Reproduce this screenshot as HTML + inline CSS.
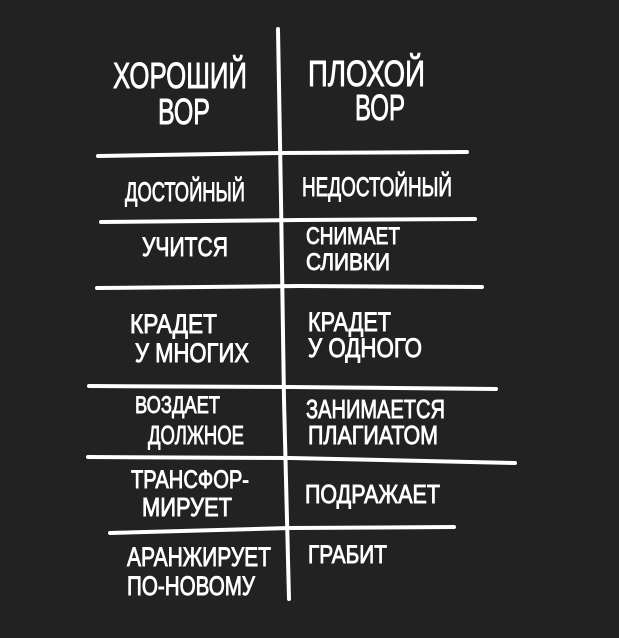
<!DOCTYPE html>
<html><head><meta charset="utf-8"><style>
html,body{margin:0;padding:0;background:#222222;}
svg{display:block;}
text{font-family:"Liberation Sans","DejaVu Sans",sans-serif;fill:#fff;stroke:#fff;stroke-width:0.9;}
</style></head><body>
<svg width="619" height="638" viewBox="0 0 619 638" xmlns="http://www.w3.org/2000/svg">
<rect width="619" height="638" fill="#222222"/>
<g stroke="#fff" stroke-width="4" stroke-linecap="round" fill="none">
<path d="M278 29 L281 200 L284 400 L289 599"/>
<path d="M98 156 L280 153 L467 152"/>
<path d="M101 222 L300 220 L475 219"/>
<path d="M97 288 L300 286 L482 287"/>
<path d="M89 386 L290 387 L496 389"/>
<path d="M88 457 L290 458 L515 463"/>
<path d="M110 533 L290 528 L454 527"/>
</g>
<g>
<text x="113" y="88" font-size="36" textLength="134" lengthAdjust="spacingAndGlyphs">ХОРОШИЙ</text>
<text x="158" y="124" font-size="36" textLength="52" lengthAdjust="spacingAndGlyphs">ВОР</text>
<text x="308" y="86" font-size="36" textLength="117" lengthAdjust="spacingAndGlyphs">ПЛОХОЙ</text>
<text x="355" y="120" font-size="36" textLength="50" lengthAdjust="spacingAndGlyphs">ВОР</text>

<text x="125" y="201" font-size="27" textLength="120" lengthAdjust="spacingAndGlyphs">ДОСТОЙНЫЙ</text>
<text x="302" y="196" font-size="27" textLength="150" lengthAdjust="spacingAndGlyphs">НЕДОСТОЙНЫЙ</text>

<text x="142" y="256" font-size="27" textLength="86" lengthAdjust="spacingAndGlyphs">УЧИТСЯ</text>
<text x="306" y="244" font-size="24" textLength="94" lengthAdjust="spacingAndGlyphs">СНИМАЕТ</text>
<text x="306" y="270" font-size="24" textLength="84" lengthAdjust="spacingAndGlyphs">СЛИВКИ</text>

<text x="130" y="333" font-size="27" textLength="87" lengthAdjust="spacingAndGlyphs">КРАДЕТ</text>
<text x="135" y="362" font-size="27" textLength="114" lengthAdjust="spacingAndGlyphs">У МНОГИХ</text>
<text x="308" y="331" font-size="27" textLength="83" lengthAdjust="spacingAndGlyphs">КРАДЕТ</text>
<text x="308" y="357" font-size="27" textLength="114" lengthAdjust="spacingAndGlyphs">У ОДНОГО</text>

<text x="135" y="413" font-size="24" textLength="85" lengthAdjust="spacingAndGlyphs">ВОЗДАЕТ</text>
<text x="148" y="444" font-size="26" textLength="96" lengthAdjust="spacingAndGlyphs">ДОЛЖНОЕ</text>
<text x="306" y="418" font-size="26" textLength="139" lengthAdjust="spacingAndGlyphs">ЗАНИМАЕТСЯ</text>
<text x="308" y="444" font-size="26" textLength="130" lengthAdjust="spacingAndGlyphs">ПЛАГИАТОМ</text>

<text x="131" y="488" font-size="25" textLength="118" lengthAdjust="spacingAndGlyphs">ТРАНСФОР-</text>
<text x="142" y="516" font-size="26" textLength="90" lengthAdjust="spacingAndGlyphs">МИРУЕТ</text>
<text x="305" y="503" font-size="26" textLength="135" lengthAdjust="spacingAndGlyphs">ПОДРАЖАЕТ</text>

<text x="127" y="566" font-size="27" textLength="144" lengthAdjust="spacingAndGlyphs">АРАНЖИРУЕТ</text>
<text x="127" y="595" font-size="27" textLength="128" lengthAdjust="spacingAndGlyphs">ПО-НОВОМУ</text>
<text x="308" y="563" font-size="25" textLength="79" lengthAdjust="spacingAndGlyphs">ГРАБИТ</text>
</g>
</svg>
</body></html>
